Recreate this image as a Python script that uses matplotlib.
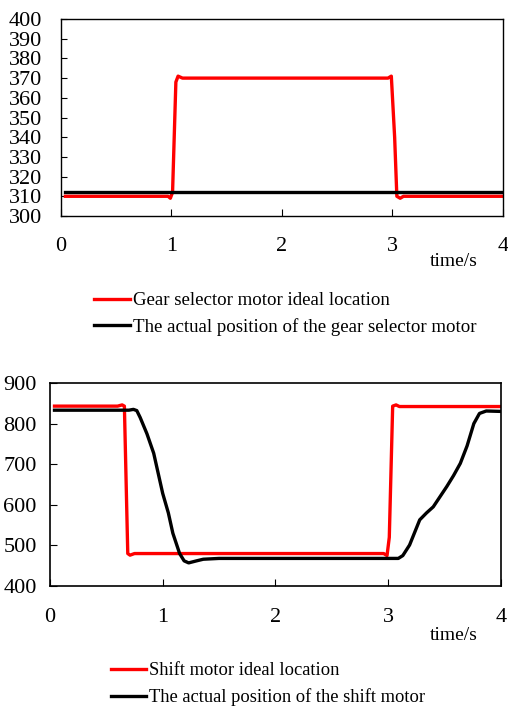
import matplotlib
matplotlib.use("Agg")
import matplotlib.pyplot as plt

plt.rcParams['font.family'] = ['Liberation Serif', 'DejaVu Serif']

# Top chart: gear selector motor
t_sel_ideal = [0.04, 0.97, 0.99, 1.01, 1.04, 1.06, 1.10, 2.96, 2.99, 3.02, 3.04, 3.07, 3.10, 4.0]
y_sel_ideal = [310, 310, 309, 312, 368, 371, 370, 370, 371, 340, 310, 309, 310, 310]
t_sel_act = [0.04, 4.0]
y_sel_act = [312, 312]

# Bottom chart: shift motor
t_sh_ideal = [0.04, 0.60, 0.64, 0.66, 0.69, 0.71, 0.75, 2.96, 2.99, 3.01, 3.04, 3.07, 3.10, 4.0]
y_sh_ideal = [843, 843, 846, 843, 480, 476, 480, 480, 475, 520, 843, 846, 842, 842]
t_sh_act = [0.04, 0.70, 0.74, 0.77, 0.80, 0.86, 0.92, 1.00, 1.05, 1.09, 1.15, 1.19, 1.23, 1.30, 1.36,
            1.50, 1.62, 2.5, 3.09, 3.13, 3.19, 3.28, 3.34, 3.40, 3.46, 3.52, 3.58, 3.64, 3.70, 3.76,
            3.81, 3.87, 4.0]
y_sh_act = [833, 833, 835, 832, 815, 775, 727, 628, 580, 530, 480, 462, 457, 462, 466,
            468, 468, 468, 468, 475, 501, 563, 580, 595, 620, 645, 672, 702, 745, 800,
            825, 831, 830]

sel_yticks = [300, 310, 320, 330, 340, 350, 360, 370, 380, 390, 400]
sh_yticks = [400, 500, 600, 700, 800, 900]
xticks = [0, 1, 2, 3, 4]

sel_labels = ["Gear selector motor ideal location",
              "The actual position of the gear selector motor"]
sh_labels = ["Shift motor ideal location",
             "The actual position of the shift motor"]

fig = plt.figure(figsize=(5.08, 7.07), dpi=100)

ax1 = fig.add_axes([0.120, 0.6945, 0.870, 0.2786])
ax2 = fig.add_axes([0.0984, 0.1711, 0.8876, 0.2872])

RED = '#ff0000'
lw = 2.4

l1, = ax1.plot(t_sel_ideal, y_sel_ideal, color=RED, lw=lw, solid_joinstyle='round')
l2, = ax1.plot(t_sel_act, y_sel_act, color='black', lw=lw)
ax1.set_xlim(0, 4)
ax1.set_ylim(300, 400)
ax1.set_yticks(sel_yticks)
ax1.set_xticks(xticks)
ax1.tick_params(axis='x', direction='in', length=5, pad=15, labelsize=16)
ax1.tick_params(axis='y', direction='in', length=4, pad=13.5, labelsize=16)
for s in ax1.spines.values():
    s.set_linewidth(1.0)

l3, = ax2.plot(t_sh_ideal, y_sh_ideal, color=RED, lw=lw, solid_joinstyle='round')
l4, = ax2.plot(t_sh_act, y_sh_act, color='black', lw=lw)
ax2.set_xlim(0, 4)
ax2.set_ylim(400, 900)
ax2.set_yticks(sh_yticks)
ax2.set_xticks(xticks)
ax2.tick_params(axis='x', direction='in', length=5, pad=16, labelsize=16)
ax2.tick_params(axis='y', direction='in', length=5, pad=9.5, labelsize=16)
for s in ax2.spines.values():
    s.set_linewidth(1.2)

fig.text(454/508, 1 - 262/707, "time/s", fontsize=14, ha='center', va='center')
fig.text(454/508, 1 - 636/707, "time/s", fontsize=14, ha='center', va='center')

fig.legend([l1, l2], sel_labels, loc='upper left', bbox_to_anchor=(94/508, 1 - 292/707),
           frameon=False, fontsize=13.6, handlelength=1.9, handletextpad=0.15,
           borderpad=0, borderaxespad=0, labelspacing=0.45)
fig.legend([l3, l4], sh_labels, loc='upper left', bbox_to_anchor=(111/508, 1 - 662/707),
           frameon=False, fontsize=13.3, handlelength=1.9, handletextpad=0.15,
           borderpad=0, borderaxespad=0, labelspacing=0.5)

fig.savefig("out.png", dpi=100)
